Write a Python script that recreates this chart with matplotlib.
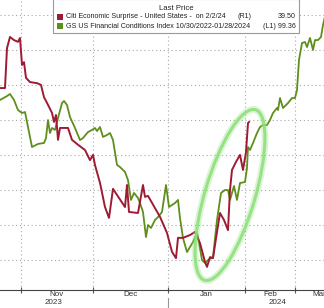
import numpy as np
import matplotlib.pyplot as plt
from matplotlib.patches import Ellipse, Rectangle
from matplotlib.lines import Line2D
from matplotlib.transforms import IdentityTransform

# x positions are in chart sessions; month boundaries below
month_ticks = [21, 93, 168, 245, 295]
month_names = ["Nov", "Dec", "Jan", "Feb", "Mar"]
year_labels = ["2023", "2024"]

# Citi Economic Surprise - United States (R1)
citi_x = [0, 5, 7, 10, 14, 18, 20, 22, 24, 26, 30, 37, 41, 44, 48, 52, 54, 56, 58, 60,
          62, 68, 72, 78, 85, 90, 93, 95, 100, 105, 109, 113, 125, 127, 129, 138, 143, 145,
          148, 160, 167, 172, 176, 178, 183, 190, 195, 200, 205, 207, 210, 213, 217, 220,
          224, 228, 230, 232, 236, 240, 243, 246, 248, 249]
citi_y = [49.2, 49.2, 60.6, 63.8, 62.9, 62.4, 63.5, 55.8, 56.6, 52.1, 50.9, 50.6, 50.1,
          46.6, 44.4, 42.1, 39.5, 41.5, 34.4, 37.8, 37.8, 37.8, 34.4, 33.0, 31.5, 28.6,
          30.1, 27.2, 22.1, 15.2, 12.1, 20.4, 15.2, 21.5, 13.8, 13.5, 21.5, 18.1, 18.4,
          12.4, 7.8, 2.4, 0.6, 6.4, 6.4, 7.2, 8.1, 4.9, -0.5, -1.9, 0.9, 0.6, 8.1, 13.5,
          11.5, 8.6, 20.1, 25.8, 28.1, 30.1, 25.8, 30.9, 39.2, 39.5]

# GS US Financial Conditions Index (L1, inverted)
gs_x = [0, 7, 10, 14, 18, 22, 25, 28, 32, 38, 44, 46, 48, 50, 52, 55, 58, 62, 64, 67,
        70, 75, 80, 83, 88, 92, 95, 97, 100, 103, 107, 110, 113, 117, 120, 125, 128, 131,
        134, 138, 140, 143, 146, 148, 151, 155, 158, 162, 166, 169, 175, 178, 180, 183,
        187, 190, 193, 197, 198, 202, 205, 208, 213, 217, 221, 225, 228, 230, 234, 237,
        240, 245, 247, 248, 250, 253, 257, 260, 263, 267, 270, 273, 277, 278, 280, 283,
        288, 292, 295, 297, 299, 302, 305, 307, 310, 313, 315, 318, 321, 323, 326]
gs_y = [99.857, 99.829, 99.814, 99.857, 99.929, 99.950, 99.943, 100.050, 100.193,
        100.171, 100.164, 100.129, 100.000, 100.093, 100.057, 100.071, 99.986, 99.879,
        99.864, 99.893, 99.979, 100.057, 100.143, 100.129, 100.086, 100.071, 100.057,
        100.079, 100.050, 100.121, 100.107, 100.093, 100.143, 100.321, 100.336, 100.371,
        100.429, 100.571, 100.521, 100.557, 100.593, 100.657, 100.836, 100.750, 100.771,
        100.714, 100.693, 100.657, 100.464, 100.621, 100.593, 100.571, 100.700, 100.843,
        100.943, 100.907, 100.871, 100.807, 100.836, 101.000, 101.021, 101.000, 100.979,
        100.714, 100.521, 100.500, 100.500, 100.571, 100.471, 100.571, 100.450, 100.443,
        100.343, 100.193, 100.214, 100.164, 100.093, 100.050, 100.036, 100.036, 100.000,
        99.950, 99.914, 99.929, 99.843, 99.914, 99.879, 99.843, 99.843, 99.786, 99.571,
        99.450, 99.443, 99.479, 99.414, 99.500, 99.429, 99.429, 99.407, 99.321, 99.229]

RED = "#9e1b34"
GREEN = "#5e8f1c"
W, H = 324, 308


def fpos(x, y):
    # pixel position (from top-left) to figure fraction
    return x / W, 1 - y / H


fig = plt.figure(figsize=(W / 100, H / 100), dpi=100)
plt.rcParams['font.family'] = ['Liberation Sans', 'DejaVu Sans']
ax = fig.add_axes([0, 18 / H, 1, 290 / H])
ax2 = ax.twinx()

ax.plot(gs_x, gs_y, color=GREEN, lw=1.3, zorder=3)
ax2.plot(citi_x, citi_y, color=RED, lw=1.4, zorder=3)

ax.set_xlim(0, W)
ax.set_ylim(101.214, 99.143)
ax2.set_ylim(-8.5, 74.357)

ax.set_yticks(np.arange(99.25, 101.01, 0.25))
ax.set_xticks(month_ticks)
ax.set_xticklabels([])
ax.set_yticklabels([])
ax.grid(True, color="#a8a8a8", lw=0.8, ls=(0, (1, 2.5)))
ax.tick_params(axis="y", length=0)
ax.tick_params(axis="x", direction="inout", length=5, color="#555555", width=0.8)
ax2.set_yticks([])
for s in ["left", "right", "top"]:
    ax.spines[s].set_visible(False)
    ax2.spines[s].set_visible(False)
ax.spines["bottom"].set_color("#444444")
ax.spines["bottom"].set_linewidth(0.8)
ax2.spines["bottom"].set_visible(False)

# highlight ellipse around the January rebound
for lw, a in [(5, 0.3), (2.2, 0.9)]:
    e = Ellipse((230, H - 195), width=178, height=50, angle=73.4, fill=False,
                edgecolor="#8fe07c", lw=lw, alpha=a, transform=IdentityTransform(), zorder=5)
    fig.add_artist(e)

# month and year labels
bounds = month_ticks + [343]
for i, name in enumerate(month_names):
    xc = (bounds[i] + bounds[i + 1]) / 2
    fig.text(*fpos(xc, 295), name, ha="center", va="center", fontsize=5.8, color="#333333")
fig.text(*fpos(54, 303), year_labels[0], ha="center", va="center", fontsize=5.8, color="#333333")
fig.text(*fpos(278, 303), year_labels[1], ha="center", va="center", fontsize=5.8, color="#333333")
fig.add_artist(Line2D([168 / W, 168 / W], [0, 10 / H], color="#999999", lw=0.8))

# legend box
fig.add_artist(Rectangle(fpos(53, 33), 246 / W, 34 / H, facecolor="white",
                         edgecolor="#999999", lw=0.8, zorder=6))
fig.text(*fpos(176, 9), "Last Price", ha="center", va="center", fontsize=5.6, color="#222222", zorder=7)
rows = [(17, RED, "Citi Economic Surprise - United States -  on 2/2/24", "(R1)", "39.50"),
        (26, GREEN, "GS US Financial Conditions Index 10/30/2022-01/28/2024", "(L1)", "99.36")]
for y, c, label, side, val in rows:
    fig.add_artist(Rectangle(fpos(57, y + 3), 6 / W, 6 / H, facecolor=c, edgecolor="none", zorder=7))
    fig.text(*fpos(66, y), label, ha="left", va="center", fontsize=5.1, color="#222222", zorder=7)
    if side == "(R1)":
        fig.text(*fpos(252, y), side, ha="right", va="center", fontsize=5.1, color="#222222", zorder=7)
        fig.text(*fpos(296, y), val, ha="right", va="center", fontsize=5.1, color="#222222", zorder=7)
    else:
        fig.text(*fpos(296, y), side + " " + val, ha="right", va="center", fontsize=5.1,
                 color="#222222", zorder=7)

fig.savefig("out.png", dpi=100)
